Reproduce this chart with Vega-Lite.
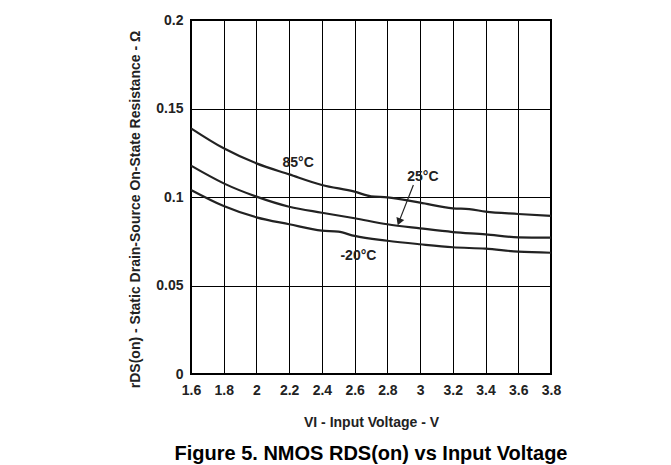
{
  "$schema": "https://vega.github.io/schema/vega-lite/v6.json",
  "autosize": {"type": "none"},
  "width": 360,
  "height": 354,
  "padding": {"left": 191, "top": 20, "right": 120, "bottom": 91},
  "background": "white",
  "config": {
    "font": "Liberation Sans",
    "view": {"stroke": "#000", "strokeWidth": 2},
    "axis": {
      "grid": true, "gridColor": "#000", "gridOpacity": 1, "gridWidth": 1,
      "domain": false, "ticks": false, "labelOverlap": false, "labelFlush": false, "labelBound": false,
      "labelFont": "Liberation Sans", "labelFontWeight": "bold", "labelFontSize": 14, "labelColor": "#222",
      "titleFont": "Liberation Sans", "titleFontWeight": "bold", "titleFontSize": 14, "titleColor": "#222"
    }
  },
  "title": {
    "text": "Figure 5. NMOS RDS(on) vs Input Voltage",
    "orient": "bottom", "anchor": "middle",
    "font": "Liberation Sans", "fontSize": 20, "fontWeight": "bold", "color": "#000",
    "offset": 15
  },
  "datasets": {
    "curves": [
      {"v": 1.6, "r": 0.1388, "t": "85"}, {"v": 1.8, "r": 0.1275, "t": "85"}, {"v": 2.0, "r": 0.119, "t": "85"},
      {"v": 2.2, "r": 0.1128, "t": "85"}, {"v": 2.4, "r": 0.1068, "t": "85"}, {"v": 2.6, "r": 0.103, "t": "85"},
      {"v": 2.7, "r": 0.1004, "t": "85"}, {"v": 2.8, "r": 0.0998, "t": "85"}, {"v": 3.0, "r": 0.0968, "t": "85"},
      {"v": 3.2, "r": 0.0936, "t": "85"}, {"v": 3.3, "r": 0.0932, "t": "85"}, {"v": 3.4, "r": 0.0917, "t": "85"},
      {"v": 3.6, "r": 0.0904, "t": "85"}, {"v": 3.8, "r": 0.0893, "t": "85"},
      {"v": 1.6, "r": 0.1177, "t": "25"}, {"v": 1.8, "r": 0.1077, "t": "25"}, {"v": 2.0, "r": 0.1002, "t": "25"},
      {"v": 2.2, "r": 0.0945, "t": "25"}, {"v": 2.4, "r": 0.0911, "t": "25"}, {"v": 2.6, "r": 0.088, "t": "25"},
      {"v": 2.8, "r": 0.0846, "t": "25"}, {"v": 3.0, "r": 0.0823, "t": "25"}, {"v": 3.2, "r": 0.0802, "t": "25"},
      {"v": 3.4, "r": 0.0789, "t": "25"}, {"v": 3.6, "r": 0.0772, "t": "25"}, {"v": 3.8, "r": 0.077, "t": "25"},
      {"v": 1.6, "r": 0.104, "t": "-20"}, {"v": 1.8, "r": 0.0949, "t": "-20"}, {"v": 2.0, "r": 0.0885, "t": "-20"},
      {"v": 2.2, "r": 0.0846, "t": "-20"}, {"v": 2.4, "r": 0.081, "t": "-20"}, {"v": 2.5, "r": 0.0804, "t": "-20"},
      {"v": 2.6, "r": 0.078, "t": "-20"}, {"v": 2.8, "r": 0.0753, "t": "-20"}, {"v": 3.0, "r": 0.0733, "t": "-20"},
      {"v": 3.2, "r": 0.0716, "t": "-20"}, {"v": 3.4, "r": 0.0708, "t": "-20"}, {"v": 3.6, "r": 0.0691, "t": "-20"},
      {"v": 3.8, "r": 0.0685, "t": "-20"}
    ],
    "labels": [
      {"v": 2.255, "r": 0.1192, "label": "85°C"},
      {"v": 3.017, "r": 0.1115, "label": "25°C"},
      {"v": 2.623, "r": 0.0668, "label": "-20°C"}
    ],
    "arrow": [
      {"v": 2.959, "r": 0.1068, "v2": 2.876, "r2": 0.0872}
    ],
    "head": [
      {"v": 2.874, "r": 0.0866}
    ]
  },
  "layer": [
    {
      "data": {"name": "curves"},
      "mark": {"type": "line", "color": "#222", "strokeWidth": 2.2, "interpolate": "monotone"},
      "encoding": {
        "x": {
          "field": "v", "type": "quantitative",
          "scale": {"domain": [1.6, 3.8], "nice": false, "zero": false},
          "axis": {
            "values": [1.6, 1.8, 2.0, 2.2, 2.4, 2.6, 2.8, 3.0, 3.2, 3.4, 3.6, 3.8],
            "tickCount": 20,
            "format": ".1~f", "labelPadding": 9,
            "title": "VI - Input Voltage - V", "titleY": 48, "titleBaseline": "middle"
          }
        },
        "y": {
          "field": "r", "type": "quantitative",
          "scale": {"domain": [0, 0.2], "nice": false},
          "axis": {
            "values": [0, 0.05, 0.1, 0.15, 0.2],
            "tickCount": 10,
            "format": "~g", "labelPadding": 8,
            "title": "rDS(on) - Static Drain-Source On-State Resistance - Ω",
            "titleFontSize": 14,
            "titleX": -56, "titleY": 189, "titleBaseline": "middle", "titleAngle": -90
          }
        },
        "detail": {"field": "t", "type": "nominal"}
      }
    },
    {
      "data": {"name": "labels"},
      "mark": {"type": "text", "font": "Liberation Sans", "fontWeight": "bold", "fontSize": 14, "color": "#222"},
      "encoding": {
        "x": {"field": "v", "type": "quantitative"},
        "y": {"field": "r", "type": "quantitative"},
        "text": {"field": "label"}
      }
    },
    {
      "data": {"name": "arrow"},
      "mark": {"type": "rule", "color": "#222", "strokeWidth": 1.2},
      "encoding": {
        "x": {"field": "v", "type": "quantitative"},
        "y": {"field": "r", "type": "quantitative"},
        "x2": {"field": "v2"},
        "y2": {"field": "r2"}
      }
    },
    {
      "data": {"name": "head"},
      "mark": {"type": "point", "shape": "triangle", "filled": true, "color": "#222", "opacity": 1, "size": 70, "angle": 201.5},
      "encoding": {
        "x": {"field": "v", "type": "quantitative"},
        "y": {"field": "r", "type": "quantitative"}
      }
    }
  ]
}
